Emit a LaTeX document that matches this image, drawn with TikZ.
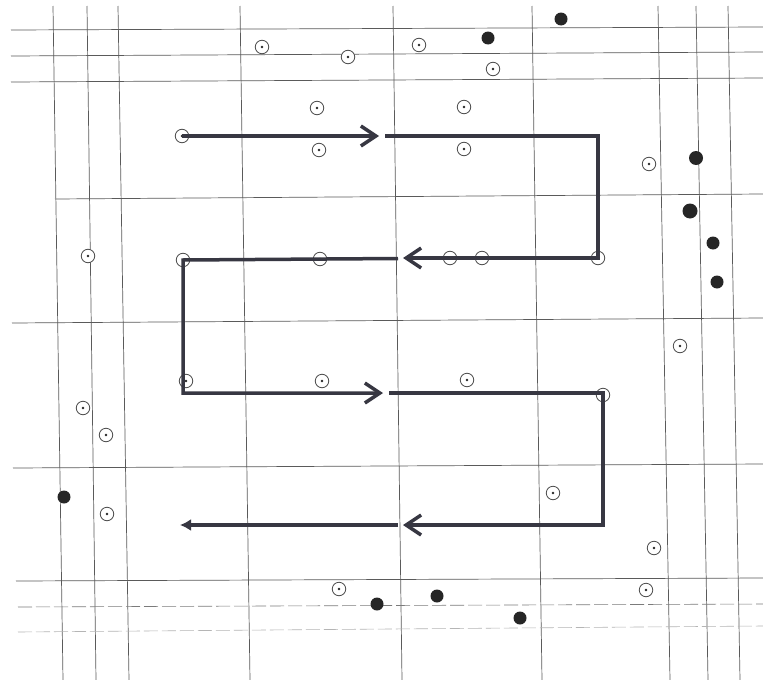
\documentclass[tikz,border=0pt]{standalone}
\usetikzlibrary{arrows.meta}
\definecolor{pathcol}{RGB}{55,55,66}
\definecolor{gridcol}{RGB}{90,90,90}
\begin{document}
\begin{tikzpicture}[x=1pt,y=-1pt,
  grid/.style={draw=gridcol, line width=0.7pt},
  gridd/.style={draw=gridcol!80, line width=0.6pt, dash pattern=on 14pt off 4pt},
  pth/.style={draw=pathcol, line width=3.5pt, line join=miter},
  barb/.style={-{Straight Barb[length=15pt,width=20pt]}},
  ring/.style={circle, draw=black!70, line width=0.8pt, minimum size=13.5pt, inner sep=0pt, fill=white,
    path picture={\fill[black!85] (path picture bounding box.center) circle (1.3pt);}},
  blob/.style={circle, fill=black!85, minimum size=13pt, inner sep=0pt},
]
\useasboundingbox[fill=white] (0,0) rectangle (763,680);

% vertical grid lines
\draw[grid] (53,6) -- (63,680);
\draw[grid] (87,6) -- (96,680);
\draw[grid] (118,6) -- (129,680);
\draw[grid] (240,6) -- (250,680);
\draw[grid] (393,6) -- (402,680);
\draw[grid] (532,6) -- (542,680);
\draw[grid] (658,6) -- (670,680);
\draw[grid] (696,6) -- (708,680);
\draw[grid] (728,6) -- (740,680);

% horizontal grid lines
\draw[grid] (11,30) -- (763,27);
\draw[grid] (11,56) -- (763,52);
\draw[grid] (11,82) -- (763,78);
\draw[grid] (55,199) -- (763,194);
\draw[grid] (12,323) -- (763,318);
\draw[grid] (13,468) -- (763,464);
\draw[grid] (16,581) -- (763,578);
\draw[gridd] (18,607) -- (763,604);
\draw[gridd, draw=gridcol!45] (18,632) -- (763,626);

% path coordinates
\coordinate (c2) at (598,136);
\coordinate (c3) at (598,258);
\coordinate (c4) at (183,260);
\coordinate (c5) at (183,393);
\coordinate (c6) at (603,393);
\coordinate (c7) at (603,525);
\coordinate (c8) at (180,525);
\coordinate (m1) at (379,136);
\coordinate (m1b) at (385,136);
\coordinate (m2) at (403,258);
\coordinate (m2b) at (398,258.5);
\coordinate (m3) at (383,393);
\coordinate (m3b) at (389,393);
\coordinate (m4) at (403,525);
\coordinate (m4b) at (398,525);

% ring markers
\node[ring] (r1) at (262,47) {};
\node[ring] (r2) at (348,57) {};
\node[ring] (r3) at (419,45) {};
\node[ring] (r4) at (493,69) {};
\node[ring] (r5) at (317,108) {};
\node[ring] (r6) at (464,107) {};
\node[ring] (r8) at (319,150) {};
\node[ring] (r9) at (464,149) {};
\node[ring] (r10) at (649,164) {};
\node[ring] (r11) at (88,256) {};
\node[ring] (r17) at (680,346) {};
\node[ring] (r18) at (186,381) {};
\node[ring] (r19) at (322,381) {};
\node[ring] (r20) at (467,380) {};
\node[ring] (r22) at (83,408) {};
\node[ring] (r23) at (106,435) {};
\node[ring] (r24) at (553,493) {};
\node[ring] (r25) at (107,514) {};
\node[ring] (r26) at (654,548) {};
\node[ring] (r27) at (339,589) {};
\node[ring] (r28) at (646,590) {};

% filled markers
\node[blob] (b1) at (561,19) {};
\node[blob] (b2) at (488,38) {};
\node[blob, minimum size=14pt] (b3) at (696,158) {};
\node[blob, minimum size=15pt] (b4) at (690,211) {};
\node[blob] (b5) at (713,243) {};
\node[blob] (b6) at (717,282) {};
\node[blob] (b7) at (64,497) {};
\node[blob] (b8) at (377,604) {};
\node[blob] (b9) at (437,596) {};
\node[blob] (b10) at (520,618) {};

% rings on the path
\node[ring] (r7) at (182,136) {};
\node[ring] (r12) at (183,260) {};
\node[ring] (r13) at (320,259) {};
\node[ring] (r14) at (450,258) {};
\node[ring] (r15) at (482,258) {};
\node[ring] (r16) at (598,258) {};
\node[ring] (r21) at (603,395) {};

% serpentine path
\draw[pth, barb] (r7.center) -- (m1);
\draw[pth, barb] (m1b) -- (c2) -- (c3) -- (m2);
\draw[pth, barb] (m2b) -- (c4) -- (c5) -- (m3);
\draw[pth, barb] (m3b) -- (c6) -- (c7) -- (m4);
\draw[pth, line width=3.3pt, -{Latex[length=11pt,width=12pt]}] (m4b) -- (c8);
\end{tikzpicture}
\end{document}
